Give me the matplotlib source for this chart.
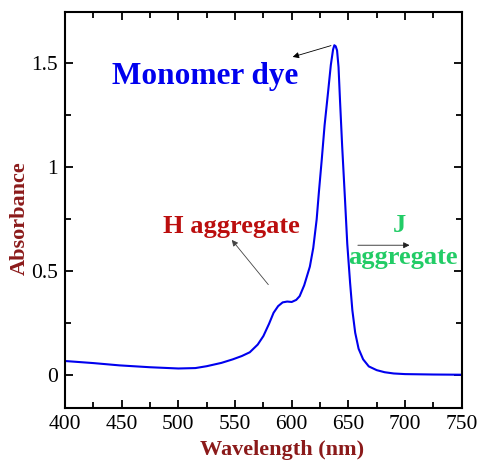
import numpy as np
import matplotlib
matplotlib.use("Agg")
import matplotlib.pyplot as plt
from matplotlib.ticker import MultipleLocator, FuncFormatter

# absorbance spectrum
wavelength = [400, 425, 448, 475, 500, 515, 525, 538, 548, 556, 563, 570, 575, 580,
              584, 588, 592, 596, 600, 604, 607, 611, 616, 619, 622, 624, 626.5,
              629, 632, 634.5, 636.5, 637.6, 638.8, 640, 641.3, 642.6, 644.5, 647,
              649, 651.5, 653.5, 656, 659, 663, 668, 675, 682, 690, 700, 725, 750]
absorbance = [0.066, 0.056, 0.045, 0.036, 0.030, 0.032, 0.041, 0.057, 0.074, 0.09,
              0.108, 0.145, 0.186, 0.245, 0.298, 0.33, 0.348, 0.352, 0.350, 0.36,
              0.378, 0.43, 0.52, 0.61, 0.747, 0.88, 1.035, 1.2, 1.356, 1.49, 1.565,
              1.585, 1.58, 1.56, 1.48, 1.32, 1.1, 0.843, 0.63, 0.442, 0.31, 0.202,
              0.125, 0.074, 0.04, 0.022, 0.012, 0.006, 0.003, 0.001, 0.0]

dark_red = '#8B1A1A'

plt.rcParams['font.family'] = ['Liberation Serif', 'DejaVu Serif']
fig = plt.figure(figsize=(4.78, 4.61), dpi=100)
ax = fig.add_axes([0.136, 0.115, 0.830, 0.859])

ax.plot(wavelength, absorbance, color='#0000ee', lw=1.5)

ax.set_xlim(400, 750)
ax.set_ylim(-0.16, 1.745)
ax.xaxis.set_major_locator(MultipleLocator(50))
ax.xaxis.set_minor_locator(MultipleLocator(25))
ax.yaxis.set_major_locator(MultipleLocator(0.5))
ax.yaxis.set_minor_locator(MultipleLocator(0.25))
ax.yaxis.set_major_formatter(FuncFormatter(lambda v, p: f'{v:g}'))
ax.tick_params(which='both', direction='in', top=True, right=True, width=1.3,
               labelsize=15.5)
ax.tick_params(which='major', length=6, pad=5)
ax.tick_params(which='minor', length=4)
for s in ax.spines.values():
    s.set_linewidth(1.5)

ax.set_xlabel('Wavelength (nm)', fontsize=16, fontweight='bold', color=dark_red)
ax.xaxis.set_label_coords(0.548, -0.081)
ax.set_ylabel('Absorbance', fontsize=16, fontweight='bold', color=dark_red)
ax.yaxis.set_label_coords(-0.09, 0.48)

# annotations
ax.text(524, 1.434, 'Monomer dye', color='#0000ee', fontsize=22.5, fontweight='bold',
        ha='center', va='center')
ax.annotate('', xy=(598.5, 1.525), xytext=(637, 1.587),
            arrowprops=dict(arrowstyle='-|>', color='black', lw=0.6, mutation_scale=9))

ax.text(546.5, 0.713, 'H aggregate', color='#bb0e0e', fontsize=19, fontweight='bold',
        ha='center', va='center')
ax.annotate('', xy=(545.6, 0.659), xytext=(580.9, 0.423),
            arrowprops=dict(arrowstyle='-|>', color='#444444', lw=0.6, mutation_scale=9))

ax.text(694.7, 0.717, 'J', color='#22cc66', fontsize=19, fontweight='bold',
        ha='center', va='center')
ax.text(698, 0.564, 'aggregate', color='#22cc66', fontsize=19, fontweight='bold',
        ha='center', va='center')
ax.annotate('', xy=(706.4, 0.623), xytext=(655.9, 0.623),
            arrowprops=dict(arrowstyle='-|>', color='#222222', lw=0.6, mutation_scale=9))

fig.savefig('out.png', dpi=100)
